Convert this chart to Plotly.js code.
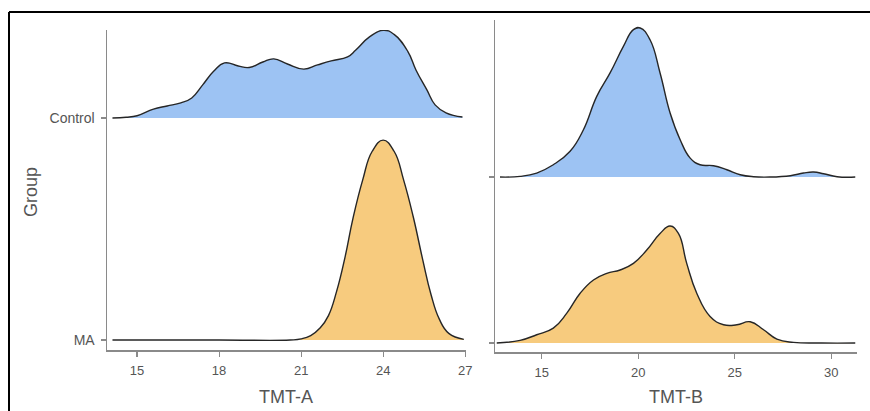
<!DOCTYPE html>
<html>
<head>
<meta charset="utf-8">
<script src="https://cdn.plot.ly/plotly-3.0.1.min.js"></script>
<style>html,body{margin:0;padding:0;background:#fff;}#chart{width:870px;height:411px;}</style>
</head>
<body>
<div id="chart"></div>
<script>
// Groups (ridge order: index 0 = bottom)
const groups = ['MA', 'Control'];

// TMT-A densities (heights in ridge units)
const tmtA_control_x = [14.1, 14.6, 15.0, 15.6, 16.1, 16.6, 17.0, 17.4, 17.8, 18.2, 18.7, 19.1, 19.6, 20.0, 20.5, 21.1, 21.6, 22.1, 22.7, 23.0, 23.5, 24.0, 24.4, 24.9, 25.2, 25.6, 25.9, 26.3, 26.9];
const tmtA_control_h = [0.0, 0.003, 0.01, 0.04, 0.054, 0.068, 0.09, 0.149, 0.21, 0.248, 0.234, 0.227, 0.252, 0.266, 0.243, 0.22, 0.239, 0.257, 0.275, 0.306, 0.365, 0.395, 0.376, 0.30, 0.216, 0.126, 0.059, 0.023, 0.004];
const tmtA_ma_x = [14.1, 18.0, 20.6, 21.0, 21.35, 21.7, 22.0, 22.3, 22.6, 22.9, 23.25, 23.6, 24.0, 24.4, 24.75, 25.1, 25.45, 25.75, 26.05, 26.4, 26.95];
const tmtA_ma_h = [0.0, 0.0, 0.0, 0.005, 0.02, 0.055, 0.11, 0.22, 0.37, 0.55, 0.72, 0.85, 0.90, 0.85, 0.72, 0.555, 0.36, 0.205, 0.095, 0.03, 0.003];

// TMT-B densities
const tmtB_control_x = [12.84, 13.88, 14.74, 15.6, 16.47, 17.16, 17.85, 18.54, 19.23, 19.75, 20.1, 20.61, 21.13, 21.65, 22.17, 22.69, 23.2, 23.9, 24.59, 25.28, 25.97, 26.84, 27.88, 28.56, 29.08, 29.6, 30.3, 31.24];
const tmtB_control_h = [0.0, 0.004, 0.024, 0.074, 0.155, 0.285, 0.486, 0.627, 0.787, 0.888, 0.898, 0.827, 0.627, 0.386, 0.225, 0.114, 0.074, 0.068, 0.044, 0.014, 0.002, 0.0, 0.008, 0.024, 0.03, 0.02, 0.002, 0.0];
const tmtB_ma_x = [12.67, 13.88, 14.74, 15.6, 16.3, 16.99, 17.68, 18.37, 19.06, 19.75, 20.44, 21.13, 21.65, 22.08, 22.51, 23.03, 23.72, 24.42, 25.11, 25.8, 26.49, 27.18, 28.04, 29.5, 31.24];
const tmtB_ma_h = [0.0, 0.016, 0.05, 0.09, 0.18, 0.30, 0.38, 0.42, 0.44, 0.48, 0.56, 0.66, 0.705, 0.66, 0.48, 0.30, 0.16, 0.11, 0.11, 0.128, 0.08, 0.024, 0.004, 0.0, 0.0];

// Tick labels
const tmtA_ticks = [15, 18, 21, 24, 27];
const tmtB_ticks = [15, 20, 25, 30];

const colors = {Control: '#9DC3F3', MA: '#F7CB7E'};

function ridge(xs, hs, gi, name, xa, ya) {
  const base = {x: xs, y: xs.map(() => gi), xaxis: xa, yaxis: ya, mode: 'lines',
    line: {width: 0, color: 'rgba(0,0,0,0)'}, hoverinfo: 'skip', showlegend: false};
  const curve = {x: xs, y: hs.map(h => gi + h), xaxis: xa, yaxis: ya, mode: 'lines',
    fill: 'tonexty', fillcolor: colors[name], name: name,
    line: {color: '#262626', width: 1.4, shape: 'spline', smoothing: 1.3}, showlegend: false};
  return [base, curve];
}

const data = [].concat(
  ridge(tmtA_ma_x, tmtA_ma_h, 0, 'MA', 'x', 'y'),
  ridge(tmtA_control_x, tmtA_control_h, 1, 'Control', 'x', 'y'),
  ridge(tmtB_ma_x, tmtB_ma_h, 0, 'MA', 'x2', 'y2'),
  ridge(tmtB_control_x, tmtB_control_h, 1, 'Control', 'x2', 'y2')
);

const axisLine = {showline: true, linecolor: '#8a8a8a', linewidth: 1.5, showgrid: false, zeroline: false,
  ticks: 'outside', ticklen: 5, tickwidth: 1.2, tickcolor: '#8a8a8a', fixedrange: true,
  tickfont: {family: 'Liberation Sans, Arial, sans-serif', size: 13, color: '#555'}};

const W = 870, H = 411;
const layout = {
  width: W, height: H,
  margin: {l: 0, r: 0, t: 0, b: 0},
  paper_bgcolor: '#fff', plot_bgcolor: 'rgba(0,0,0,0)',
  showlegend: false,
  xaxis: Object.assign({}, axisLine, {domain: [107 / W, 466 / W], range: [13.9, 27.03], anchor: 'y',
    tickmode: 'array', tickvals: tmtA_ticks, ticktext: tmtA_ticks.map(String), ticklabelstandoff: 3}),
  yaxis: Object.assign({}, axisLine, {domain: [(H - 350) / H, (H - 30) / H], range: [-0.045, 1.396], anchor: 'x',
    tickmode: 'array', tickvals: [0, 1], ticktext: groups, ticklabelstandoff: 3,
    tickfont: {family: 'Liberation Sans, Arial, sans-serif', size: 14, color: '#555'}}),
  xaxis2: Object.assign({}, axisLine, {domain: [495 / W, 857 / W], range: [12.58, 31.33], anchor: 'y2',
    tickmode: 'array', tickvals: tmtB_ticks, ticktext: tmtB_ticks.map(String), ticklabelstandoff: 3}),
  yaxis2: Object.assign({}, axisLine, {domain: [(H - 352) / H, (H - 20) / H], range: [-0.054, 1.946], anchor: 'x2',
    tickmode: 'array', tickvals: [0, 1], ticktext: ['', '']}),
  annotations: [
    {text: 'TMT-A', xref: 'paper', yref: 'paper', x: 286 / W, y: (H - 397) / H, xanchor: 'center', yanchor: 'middle',
      showarrow: false, font: {family: 'Liberation Sans, Arial, sans-serif', size: 18, color: '#555'}},
    {text: 'TMT-B', xref: 'paper', yref: 'paper', x: 676 / W, y: (H - 397) / H, xanchor: 'center', yanchor: 'middle',
      showarrow: false, font: {family: 'Liberation Sans, Arial, sans-serif', size: 18, color: '#555'}},
    {text: 'Group', xref: 'paper', yref: 'paper', x: 31 / W, y: (H - 192) / H, xanchor: 'center', yanchor: 'middle',
      textangle: -90, showarrow: false, font: {family: 'Liberation Sans, Arial, sans-serif', size: 18, color: '#555'}}
  ],
  shapes: [
    {type: 'line', xref: 'paper', yref: 'paper', x0: 9 / W, x1: 1, y0: (H - 12) / H, y1: (H - 12) / H,
      line: {color: '#000', width: 2}},
    {type: 'line', xref: 'paper', yref: 'paper', x0: 9 / W, x1: 9 / W, y0: 0, y1: (H - 12) / H,
      line: {color: '#000', width: 2}}
  ]
};

Plotly.newPlot('chart', data, layout, {displayModeBar: false, staticPlot: true});
</script>
</body>
</html>
